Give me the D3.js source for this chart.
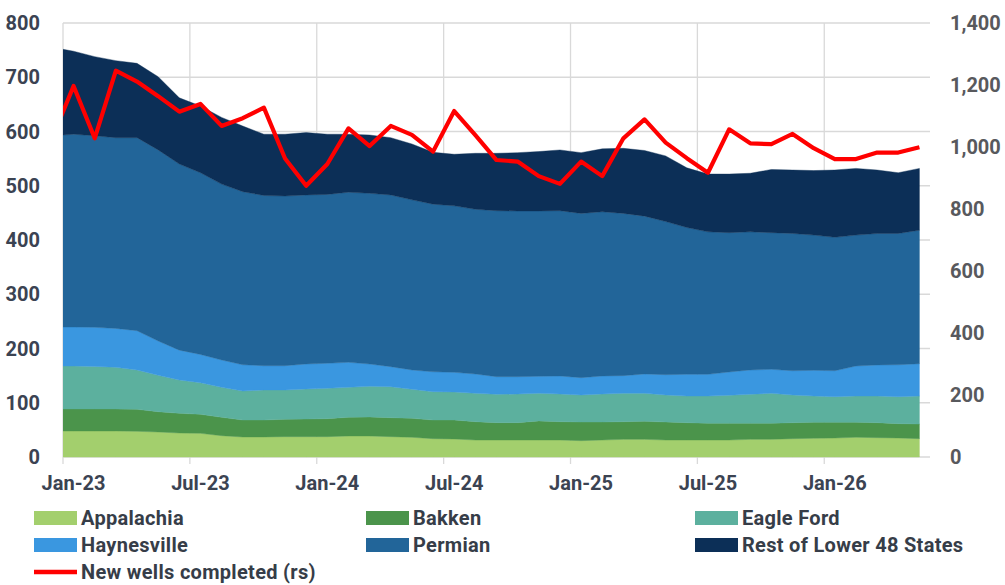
<!DOCTYPE html>
<html>
<head>
<meta charset="utf-8">
<script src="https://cdn.jsdelivr.net/npm/d3@7"></script>
<style>
  html, body { margin: 0; padding: 0; background: #ffffff; }
  svg { display: block; font-family: Roboto, "Noto Sans", sans-serif; }
</style>
</head>
<body>
<svg id="chart" width="1005" height="585"></svg>
<script>
// ---------------- data (monthly; Dec-22 sits just left of the plot and is clipped) ----------------
const months = ["Dec-22",
  "Jan-23","Feb-23","Mar-23","Apr-23","May-23","Jun-23","Jul-23","Aug-23","Sep-23","Oct-23","Nov-23","Dec-23",
  "Jan-24","Feb-24","Mar-24","Apr-24","May-24","Jun-24","Jul-24","Aug-24","Sep-24","Oct-24","Nov-24","Dec-24",
  "Jan-25","Feb-25","Mar-25","Apr-25","May-25","Jun-25","Jul-25","Aug-25","Sep-25","Oct-25","Nov-25","Dec-25",
  "Jan-26","Feb-26","Mar-26","Apr-26","May-26"];

const appalachia  = [48, 48, 48, 48, 47.3, 46.1, 44.2, 43.6, 39.3, 36.9, 36.9, 37.5, 37.5, 37.5, 38.7, 38.7, 37.5, 36.3, 33.8, 33.2, 31.3, 31.3, 31.3, 31.3, 31.3, 30.1, 31.3, 32.5, 32.5, 31.3, 31.3, 31.3, 31.3, 32.5, 32.5, 33.8, 34.4, 35, 36.3, 35.6, 35, 33.8];
const bakken      = [40.5, 40.5, 40.5, 40.5, 40.6, 37.4, 36.3, 35.1, 33.9, 31.3, 31.3, 32, 32.5, 33.2, 34.5, 35, 35, 35, 34.4, 35, 33.8, 32, 32, 35.1, 33.8, 34.4, 33.2, 32.6, 33.2, 33.2, 32, 30.8, 30.8, 29.6, 29.6, 29.5, 29.5, 28.9, 27.6, 27.7, 26.5, 27];
const eagleFord   = [79.2, 79.2, 78.5, 76.8, 72.5, 67.1, 61.5, 58.3, 55.2, 53.5, 55.3, 54, 55.3, 55.9, 55.2, 56.6, 57.1, 53.5, 52.2, 51.6, 52.3, 52.3, 52.8, 51, 51, 49.8, 51.6, 52.3, 51.7, 49.8, 49.1, 50.3, 51.6, 53.5, 55.3, 51, 48.5, 47.3, 48.5, 49.1, 49.7, 51.6];
const haynesville = [71.9, 71.9, 72, 71.7, 72.4, 63.2, 55, 52, 50.4, 48.3, 44.8, 44.8, 46.1, 46.1, 46.1, 41.1, 36.9, 35.6, 36.6, 36.2, 35.6, 32.4, 31.9, 31.3, 33.2, 31.9, 33.2, 32.6, 35.6, 37.4, 40, 40, 43, 44.8, 44.2, 44.7, 47.3, 47.8, 55.3, 57.2, 58.8, 59.6];
const permian     = [352.4, 355.4, 353, 351.6, 355.8, 352.2, 343, 335, 324.2, 319, 313.7, 312.7, 311.6, 311.3, 313.5, 314.6, 316.5, 313.6, 309, 307, 303.6, 306, 305.5, 304.8, 304.7, 302.8, 302.7, 299, 291, 282.3, 270.6, 262.6, 256.8, 254.6, 251.9, 253, 249.3, 246, 241.3, 242.4, 242, 246];
const restOfL48   = [163, 153, 146, 142, 137, 135, 122, 123, 123, 121, 113, 114, 115, 111, 107, 107.5, 105.6, 103, 95.6, 95, 103.2, 105.8, 107.5, 109.5, 112, 112, 116, 120, 121, 121, 110, 106.6, 108, 108, 116.5, 117, 119, 124, 123, 117, 112, 114];
const newWells    = [1030, 1197, 1028, 1246, 1211, 1164, 1114, 1139, 1068, 1093, 1127, 963, 875, 945, 1060, 1003, 1068, 1039, 985, 1116, 1038, 958, 953, 906, 881, 953, 906, 1028, 1089, 1014, 964, 917, 1057, 1012, 1009, 1042, 996, 961, 961, 982, 982, 999];

const seriesNames = ["Appalachia", "Bakken", "Eagle Ford", "Haynesville", "Permian", "Rest of Lower 48 States"];
const seriesData  = [appalachia, bakken, eagleFord, haynesville, permian, restOfL48];
const lineName    = "New wells completed (rs)";
const leftTicks   = [0, 100, 200, 300, 400, 500, 600, 700, 800];
const rightTicks  = [0, 200, 400, 600, 800, 1000, 1200, 1400];
const xTickLabels = ["Jan-23", "Jul-23", "Jan-24", "Jul-24", "Jan-25", "Jul-25", "Jan-26"];

// ---------------- styles ----------------
const colors = ["#a3cf6d", "#4b944b", "#5cb09e", "#3a97e0", "#226599", "#0c2f57"];
const lineColor = "#ff0000";
const gridColor = "#d9d9d9";

// ---------------- layout ----------------
const L = 63, R = 930, T = 23, B = 457;
const svg = d3.select("#chart");

// x: month index; Jan-23 band starts at the left edge, May-26 band ends at the right edge
const x = d3.scaleLinear().domain([0.5, months.length - 0.5]).range([L, R]);
const yL = d3.scaleLinear().domain([0, 800]).range([B, T]);
const yR = d3.scaleLinear().domain([0, 1400]).range([B, T]);

const table = months.map((m, i) => {
  const o = { i, month: m };
  seriesNames.forEach((n, k) => o[n] = seriesData[k][i]);
  o.wells = newWells[i];
  return o;
});

svg.append("defs").append("clipPath").attr("id", "plotclip")
  .append("rect").attr("x", L).attr("y", 0).attr("width", R - L).attr("height", B + 1);

// grid
const grid = svg.append("g");
grid.selectAll("line.h").data(leftTicks).join("line")
  .attr("x1", L).attr("x2", R)
  .attr("y1", d => yL(d)).attr("y2", d => yL(d))
  .attr("stroke", gridColor).attr("stroke-width", 1.3);
const xTickIdx = xTickLabels.map(l => months.indexOf(l));
grid.selectAll("line.v").data(xTickIdx).join("line")
  .attr("x1", d => x(d - 0.5)).attr("x2", d => x(d - 0.5))
  .attr("y1", T).attr("y2", B + 7)
  .attr("stroke", gridColor).attr("stroke-width", 1.3);

// stacked areas
const stack = d3.stack().keys(seriesNames);
const layers = stack(table);
const area = d3.area()
  .x(d => x(d.data.i))
  .y0(d => yL(d[0]))
  .y1(d => yL(d[1]));
const plot = svg.append("g").attr("clip-path", "url(#plotclip)");
plot.selectAll("path.layer").data(layers).join("path")
  .attr("fill", (d, k) => colors[k])
  .attr("stroke", (d, k) => colors[k])
  .attr("stroke-width", 0.4)
  .attr("d", area);

// line (right scale)
const line = d3.line().x(d => x(d.i)).y(d => yR(d.wells));
plot.append("path").datum(table)
  .attr("fill", "none").attr("stroke", lineColor)
  .attr("stroke-width", 4.2).attr("stroke-linejoin", "round")
  .attr("d", line);

// left axis labels
svg.append("g").selectAll("text").data(leftTicks).join("text")
  .attr("x", 40).attr("y", d => yL(d)).attr("dy", "0.36em")
  .attr("text-anchor", "end")
  .attr("font-size", 20).attr("font-weight", 700).attr("fill", "#3b4352")
  .text(d => d);

// right axis labels
svg.append("g").selectAll("text").data(rightTicks).join("text")
  .attr("x", 950).attr("y", d => yR(d)).attr("dy", "0.36em")
  .attr("text-anchor", "start")
  .attr("font-size", 20).attr("font-weight", 700).attr("fill", "#58595d")
  .text(d => d3.format(",")(d));

// x axis labels
svg.append("g").selectAll("text").data(xTickIdx).join("text")
  .attr("x", d => x(d)).attr("y", 483).attr("dy", "0.36em")
  .attr("text-anchor", "middle")
  .attr("font-size", 20).attr("font-weight", 700).attr("fill", "#3b4352")
  .text(d => months[d]);

// legend
const legendCols = [34, 366, 695];
const legendRows = [518, 545, 572];
const leg = svg.append("g");
seriesNames.forEach((n, k) => {
  const cx = legendCols[k % 3], cy = legendRows[Math.floor(k / 3)];
  leg.append("rect").attr("x", cx).attr("y", cy - 7).attr("width", 43).attr("height", 14).attr("fill", colors[k]);
  leg.append("text").attr("x", cx + 47).attr("y", cy).attr("dy", "0.36em")
    .attr("font-size", 20).attr("font-weight", 700).attr("letter-spacing", 0.3)
    .attr("fill", "#363d48").text(n);
});
leg.append("line").attr("x1", legendCols[0]).attr("x2", legendCols[0] + 43)
  .attr("y1", legendRows[2]).attr("y2", legendRows[2])
  .attr("stroke", lineColor).attr("stroke-width", 4.5);
leg.append("text").attr("x", legendCols[0] + 47).attr("y", legendRows[2]).attr("dy", "0.36em")
  .attr("font-size", 20).attr("font-weight", 700).attr("letter-spacing", 0.3)
  .attr("fill", "#363d48").text(lineName);
</script>
</body>
</html>
